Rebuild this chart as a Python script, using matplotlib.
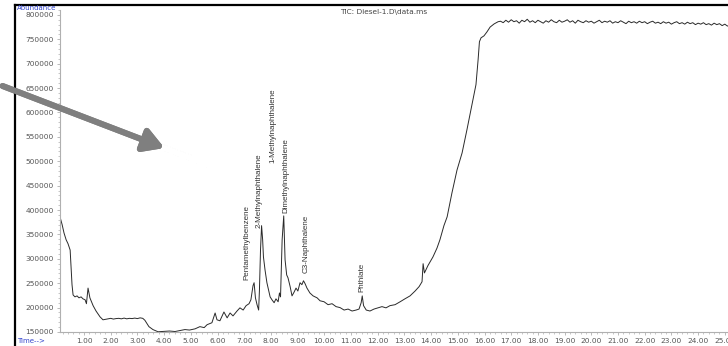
import numpy as np
import matplotlib
matplotlib.use('Agg')
import matplotlib.pyplot as plt
from matplotlib.lines import Line2D
from matplotlib.ticker import MultipleLocator, FormatStrFormatter

'''TIC trace read off the screenshot (time in min, abundance)'''
t_early = [0.10, 0.18, 0.25, 0.33, 0.40, 0.48, 0.51, 0.55, 0.59, 0.66, 0.74, 0.81, 0.89, 0.96,
           1.04, 1.09, 1.15, 1.22, 1.34, 1.45, 1.60, 1.71, 1.80, 1.90, 2.00, 2.10, 2.20, 2.30,
           2.40, 2.50, 2.60, 2.70, 2.80, 2.90, 3.00, 3.10, 3.20, 3.28, 3.43, 3.58, 3.77, 4.03,
           4.20, 4.41, 4.60, 4.78, 4.95, 5.16, 5.34, 5.50, 5.61, 5.79, 5.91, 5.98, 6.09, 6.24,
           6.36, 6.47, 6.58, 6.73, 6.84, 6.96, 7.07, 7.18, 7.25]
a_early = [386000, 370000, 353000, 339000, 331000, 318000, 288000, 247000, 226000, 222000, 224000,
           220000, 222000, 218000, 216000, 208000, 240000, 220000, 204000, 193000, 181000, 175000,
           176000, 177000, 178000, 176500, 177500, 178000, 177000, 178500, 177000, 178000, 177500,
           178500, 177500, 179000, 178000, 174000, 161000, 155000, 150500, 151500, 152000, 151000,
           153000, 155000, 154000, 156500, 161000, 159000, 165000, 169000, 189000, 175000, 173000,
           191000, 179000, 189000, 183000, 193000, 199500, 195000, 204000, 208000, 216000]

t_peaks = [7.33, 7.37, 7.42, 7.48, 7.54, 7.57, 7.61, 7.65, 7.69, 7.72, 7.78, 7.85, 7.97, 8.04,
           8.12, 8.19, 8.27, 8.32, 8.36, 8.42, 8.48, 8.53, 8.59, 8.64, 8.72, 8.79, 8.87, 8.94,
           9.01, 9.09, 9.16, 9.22, 9.28, 9.35, 9.46, 9.58, 9.73, 9.84, 9.99, 10.14, 10.29, 10.44,
           10.59, 10.74, 10.89, 11.04, 11.19, 11.30, 11.38, 11.42, 11.47, 11.57, 11.71, 11.86,
           12.01, 12.16, 12.31, 12.46, 12.65, 12.84, 13.02, 13.21, 13.40, 13.55, 13.66, 13.70,
           13.75, 13.88, 14.07, 14.22, 14.33, 14.48, 14.60, 14.78, 14.97, 15.16, 15.34, 15.53,
           15.68, 15.76, 15.81, 15.87, 15.98, 16.09, 16.21, 16.36, 16.51]
a_peaks = [245000, 251000, 220000, 206000, 195000, 236000, 318000, 368000, 339000, 304000, 277000,
           251000, 222000, 216000, 210000, 218000, 212000, 230000, 222000, 339000, 388000, 298000,
           267000, 261000, 243000, 224000, 232000, 240000, 234000, 251000, 247000, 255000, 249000,
           240000, 230000, 224000, 220000, 214000, 212000, 206000, 208000, 202000, 200000, 195000,
           197000, 193000, 195000, 197000, 210000, 224000, 204000, 195000, 193000, 197000, 199500,
           202000, 199500, 204000, 206000, 212000, 218000, 224000, 234000, 243000, 253000, 290000,
           271000, 286000, 304000, 322000, 339000, 368000, 386000, 435000, 482000, 517000, 564000,
           616000, 657000, 708000, 745000, 753000, 757000, 765000, 775000, 781500, 786000]

t_late = [16.6, 16.7, 16.8, 16.9, 17.0, 17.1, 17.2, 17.3, 17.4, 17.5, 17.6, 17.7, 17.8, 17.9,
          18.0, 18.1, 18.2, 18.3, 18.4, 18.5, 18.6, 18.7, 18.8, 18.9, 19.0, 19.1, 19.2, 19.3,
          19.4, 19.5, 19.6, 19.7, 19.8, 19.9, 20.0, 20.1, 20.2, 20.3, 20.4, 20.5, 20.6, 20.7,
          20.8, 20.9, 21.0, 21.1, 21.2, 21.3, 21.4, 21.5, 21.6, 21.7, 21.8, 21.9, 22.0, 22.1,
          22.2, 22.3, 22.4, 22.5, 22.6, 22.7, 22.8, 22.9, 23.0, 23.1, 23.2, 23.3, 23.4, 23.5,
          23.6, 23.7, 23.8, 23.9, 24.0, 24.1, 24.2, 24.3, 24.4, 24.5, 24.6, 24.7, 24.8, 24.9,
          25.0, 25.1, 25.2]
a_late = [787000, 784000, 789000, 785000, 790000, 786000, 788000, 783000, 789000, 786000, 791000,
          785000, 788000, 784000, 789000, 786000, 783000, 788000, 785000, 790000, 786000, 784000,
          789000, 785000, 787000, 790000, 785000, 788000, 783000, 789000, 786000, 784000, 788000,
          785000, 787000, 783000, 786000, 789000, 784000, 787000, 785000, 788000, 783000, 786000,
          784000, 788000, 785000, 782000, 787000, 784000, 786000, 783000, 787000, 784000, 786000,
          782000, 785000, 787000, 783000, 785000, 782000, 786000, 783000, 785000, 781000, 784000,
          786000, 782000, 784000, 781000, 785000, 782000, 784000, 780000, 783000, 781000, 784000,
          780000, 782000, 779000, 783000, 780000, 782000, 778000, 781000, 777000, 780000]

peak_names = ['Pentamethylbenzene', '2-Methylnaphthalene', '1-Methylnaphthalene',
              'Dimethylnaphthalene', 'C3-Naphthalene', 'Phthlate']
peak_t = [7.09, 7.57, 8.09, 8.57, 9.31, 11.40]
peak_a = [257000, 364000, 497000, 394000, 271000, 232000]

time = t_early + t_peaks + t_late
abund = a_early + a_peaks + a_late

'''Figure'''
fig = plt.figure(figsize=(7.28, 3.46), dpi=100)
ax = fig.add_axes([60/728, 14/346, 668/728, 322/346])
ax.plot(time, abund, color='#2a2a2a', lw=0.7)
ax.set_xlim(0.1, 25.12)
ax.set_ylim(150000, 810000)

for s in ['top', 'right']:
    ax.spines[s].set_visible(False)
for s in ['left', 'bottom']:
    ax.spines[s].set_color('#b0b0b0')
    ax.spines[s].set_linewidth(0.8)

ax.xaxis.set_major_locator(MultipleLocator(1))
ax.xaxis.set_minor_locator(MultipleLocator(0.2))
ax.xaxis.set_major_formatter(FormatStrFormatter('%.2f'))
ax.yaxis.set_major_locator(MultipleLocator(50000))
ax.yaxis.set_minor_locator(MultipleLocator(10000))
ax.yaxis.set_major_formatter(FormatStrFormatter('%d'))
ax.tick_params(axis='both', which='major', labelsize=5.3, colors='#b0b0b0',
               labelcolor='#555555', length=2.5, width=0.6, pad=2)
ax.tick_params(axis='both', which='minor', colors='#b0b0b0', length=1.5, width=0.5)
ax.set_xticks([t for t in range(1, 26)])

for name, x, y in zip(peak_names, peak_t, peak_a):
    ax.text(x, y, name, rotation=90, ha='center', va='bottom', fontsize=5.8,
            color='#333333', family='Liberation Sans')

fig.text(384/728, 1-12/346, 'TIC: Diesel-1.D\\data.ms', fontsize=5.3, color='#444444',
         ha='center', va='center')
fig.text(17/728, 1-8/346, 'Abundance', fontsize=5, color='#3344cc', ha='left', va='center')
fig.text(17/728, 1-341/346, 'Time-->', fontsize=5, color='#3344cc', ha='left', va='center')

# screenshot frame
fig.add_artist(Line2D([15/728, 15/728], [0, 1-5/346], color='black', lw=1.6))
fig.add_artist(Line2D([15/728, 1], [1-5/346, 1-5/346], color='black', lw=1.6))

# gray pointer arrow
fig.add_artist(plt.annotate('', xy=(167/728, 1-149/346), xytext=(0, 1-85/346),
                            xycoords='figure fraction', textcoords='figure fraction',
                            arrowprops=dict(arrowstyle='-|>,head_length=1.2,head_width=0.7',
                                            color='#7f7f7f', lw=4.3)))

fig.savefig('out.png', dpi=100)
